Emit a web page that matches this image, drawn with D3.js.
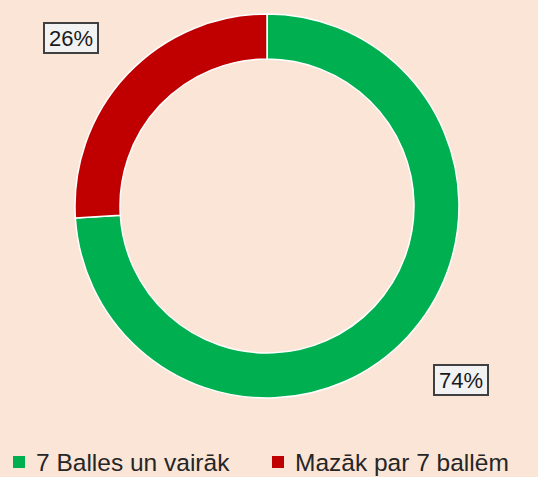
<!DOCTYPE html>
<html>
<head>
<meta charset="utf-8">
<script src="https://cdn.jsdelivr.net/npm/d3@7"></script>
<style>
  body { margin: 0; background: #FBE5D6; }
  svg { display: block; }
  text { font-family: "Liberation Sans", Arial, sans-serif; }
</style>
</head>
<body>
<div id="chart"></div>
<script>
// data
var categories = ["7 Balles un vairāk", "Mazāk par 7 ballēm"];
var values = [74, 26];
var colors = ["#00B050", "#C00000"];

var width = 538, height = 477;
var cx = 267, cy = 206, outerR = 192, innerR = 147;

var svg = d3.select("#chart").append("svg")
    .attr("width", width)
    .attr("height", height);

svg.append("rect").attr("width", width).attr("height", height).attr("fill", "#FBE5D6");

var pie = d3.pie().sort(null).value(function(d) { return d; });
var arc = d3.arc().innerRadius(innerR).outerRadius(outerR);

var g = svg.append("g").attr("transform", "translate(" + cx + "," + cy + ")");

var arcs = pie(values);

g.selectAll("path")
    .data(arcs)
    .enter().append("path")
    .attr("d", arc)
    .attr("fill", function(d, i) { return colors[i]; })
    .attr("stroke", "#ffffff")
    .attr("stroke-width", 1.5);

// data labels (boxes) placed outside the ring
var labelPos = [[461, 380], [71, 38]];
arcs.forEach(function(d, i) {
    var lg = svg.append("g").attr("transform", "translate(" + labelPos[i][0] + "," + labelPos[i][1] + ")");
    lg.append("rect")
        .attr("x", -27)
        .attr("y", -15)
        .attr("width", 54)
        .attr("height", 30)
        .attr("fill", "#F2F2F2")
        .attr("stroke", "#404040")
        .attr("stroke-width", 2);
    lg.append("text")
        .attr("text-anchor", "middle")
        .attr("dy", "0.36em")
        .attr("font-size", 22)
        .attr("fill", "#1a1a1a")
        .text(values[i] + "%");
});

// legend
var legendX = [13, 272];
var leg = svg.selectAll(".legend")
    .data(categories)
    .enter().append("g")
    .attr("class", "legend")
    .attr("transform", function(d, i) { return "translate(" + legendX[i] + ",462)"; });

leg.append("rect")
    .attr("x", 0).attr("y", -6)
    .attr("width", 12).attr("height", 12)
    .attr("fill", function(d, i) { return colors[i]; });

leg.append("text")
    .attr("x", 23)
    .attr("dy", "0.36em")
    .attr("font-size", 24.5)
    .attr("fill", "#262626")
    .text(function(d) { return d; });
</script>
</body>
</html>
